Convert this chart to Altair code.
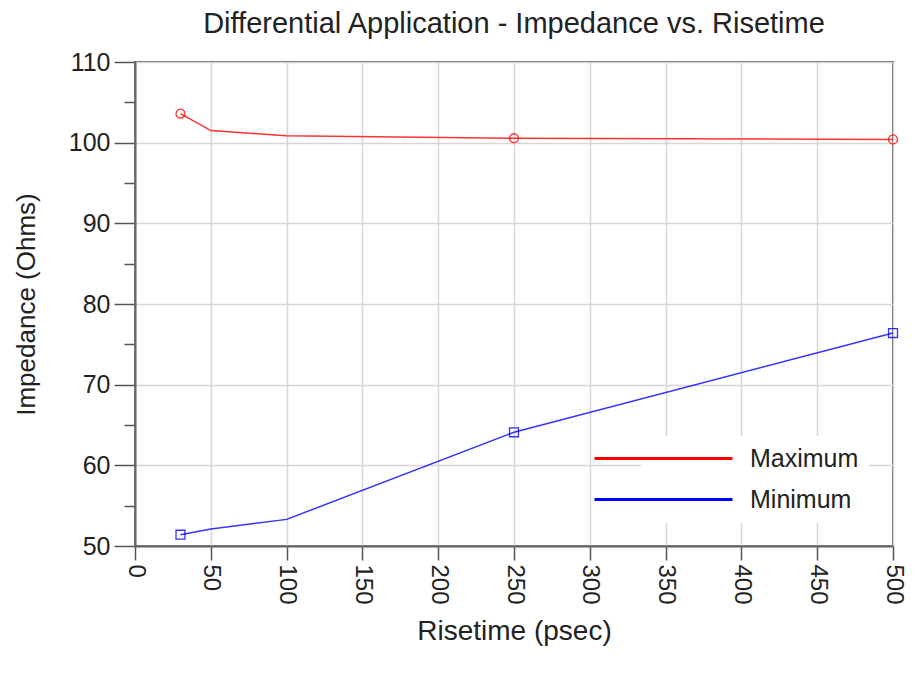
import altair as alt
import pandas as pd

# ---- data ----
rise = [30, 50, 100, 250, 500]
max_ohms = [103.6, 101.5, 100.85, 100.55, 100.4]
min_ohms = [51.4, 52.1, 53.3, 64.1, 76.4]
marker_rise = [30, 250, 500]
series = ["Maximum", "Minimum"]
series_colors = ["#ff0000", "#0000ff"]
series_shapes = ["circle", "square"]
x_ticks = list(range(0, 501, 50))
y_ticks = list(range(50, 111, 5))

rows = []
for s, vals in zip(series, [max_ohms, min_ohms]):
    for r, v in zip(rise, vals):
        rows.append({"series": s, "rise": r, "ohms": v, "marker": r in marker_rise})
df = pd.DataFrame(rows)

FONT = "Liberation Sans"
major = "datum.value % 10 === 0"

x = alt.X(
    "rise:Q",
    scale=alt.Scale(domain=[0, 500], nice=False),
    axis=alt.Axis(
        values=x_ticks,
        title="Risetime (psec)",
        titleFontSize=28,
        labelFontSize=24,
        labelAngle=90,
        labelAlign="left",
        labelBaseline="middle",
        tickSize=14,
        labelPadding=4,
        titlePadding=13,
    ),
)
y = alt.Y(
    "ohms:Q",
    scale=alt.Scale(domain=[50, 110], nice=False, zero=False),
    axis=alt.Axis(
        values=y_ticks,
        title="Impedance (Ohms)",
        titleFontSize=26,
        labelExpr=f"{major} ? datum.label : ''",
        tickSize={"condition": {"test": major, "value": 21}, "value": 11},
        gridOpacity={"condition": {"test": major, "value": 1}, "value": 0},
        labelPadding=4,
        titlePadding=29,
    ),
)

color_lines = alt.Color(
    "series:N",
    scale=alt.Scale(domain=series, range=series_colors),
    legend=alt.Legend(
        title=None,
        orient="none",
        legendX=506,
        legendY=374,
        symbolType="M-6.9,0H6.9",
        symbolSize=400,
        symbolStrokeWidth=3,
        symbolOpacity=1,
        symbolOffset=0,
        labelOffset=74,
        labelFontSize=25,
        labelFont=FONT,
        labelColor="#222",
        rowPadding=15,
        padding=10,
        fillColor="white",
    ),
)

lines = alt.Chart(df).mark_line(strokeWidth=1.5, opacity=0.8).encode(
    x=x, y=y, color=color_lines, detail="series:N"
)

point_layers = []
for s, c, shp in zip(series, series_colors, series_shapes):
    point_layers.append(
        alt.Chart(df)
        .transform_filter(f"datum.marker && datum.series === '{s}'")
        .mark_point(filled=False, size=80, strokeWidth=1.3, opacity=0.8, shape=shp, color=c)
        .encode(x=x, y=y)
    )

chart = (
    alt.layer(lines, *point_layers)
    .properties(
        width=758,
        height=484,
        title=alt.TitleParams(
            "Differential Application - Impedance vs. Risetime",
            fontSize=29,
            fontWeight="normal",
            font=FONT,
            anchor="middle",
            color="#222",
            offset=11,
        ),
        autosize=alt.AutoSizeParams(type="none"),
        padding={"left": 127, "top": 54, "right": 14, "bottom": 120},
        background="white",
    )
    .configure_view(stroke="#666", strokeWidth=2)
    .configure_axis(
        labelFont=FONT,
        titleFont=FONT,
        labelFontSize=25,
        titleFontSize=27,
        titleFontWeight="normal",
        labelColor="#222",
        titleColor="#222",
        domainColor="#666",
        domainWidth=2,
        tickColor="#555",
        tickWidth=1.5,
        gridColor="#d6d6d6",
        gridWidth=1.5,
    )
)

chart.save("out.html", embed_options={"renderer": "svg", "actions": False})
